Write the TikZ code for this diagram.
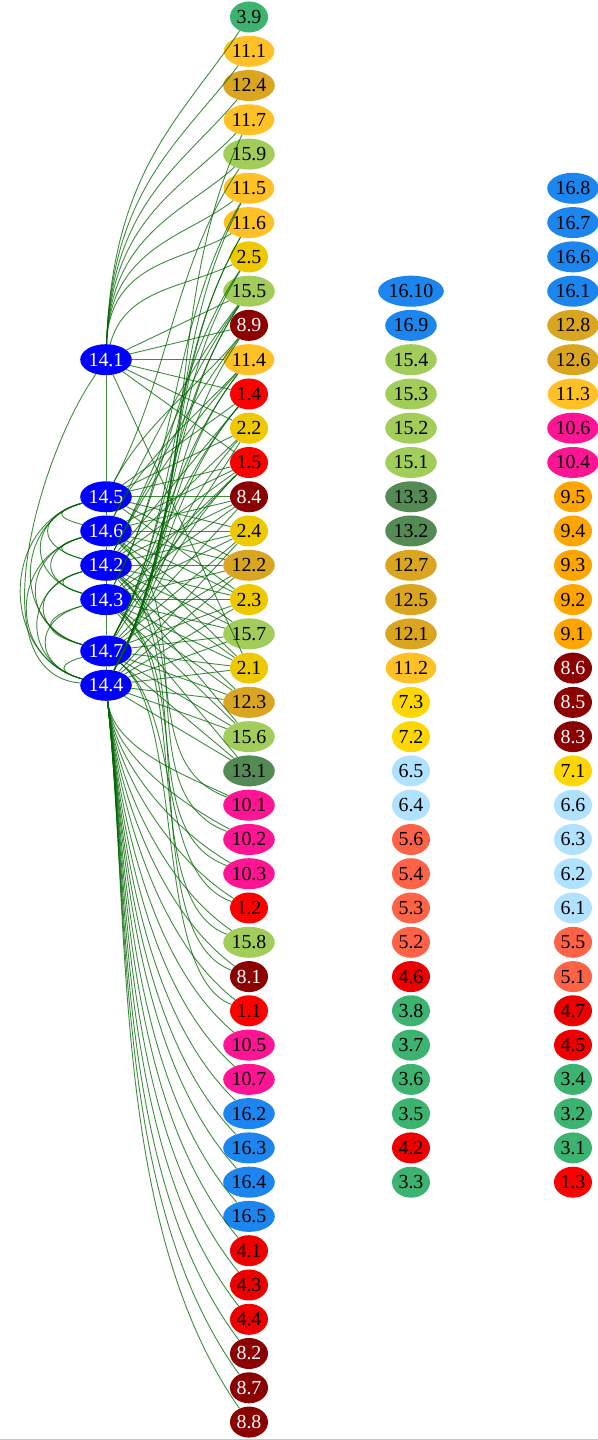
\documentclass[tikz,border=0pt]{standalone}
\usepackage{fontspec}
\setmainfont{Liberation Serif}
\usetikzlibrary{shapes.geometric}

\definecolor{cgreen}{RGB}{60,179,113}
\definecolor{cgold}{RGB}{255,193,37}
\definecolor{cgoldenrod}{RGB}{218,165,32}
\definecolor{colive}{RGB}{162,205,90}
\definecolor{cyellow}{RGB}{238,201,0}
\definecolor{cdarkred}{RGB}{139,0,0}
\definecolor{cred}{RGB}{255,0,0}
\definecolor{cpalegreen}{RGB}{84,139,84}
\definecolor{cpink}{RGB}{255,20,147}
\definecolor{cdodger}{RGB}{28,134,238}
\definecolor{cred2}{RGB}{238,0,0}
\definecolor{ctomato}{RGB}{255,99,71}
\definecolor{csky}{RGB}{176,226,255}
\definecolor{cgoldseven}{RGB}{255,215,0}
\definecolor{corange}{RGB}{255,165,0}
\definecolor{cblue}{RGB}{0,0,255}
\definecolor{edgegreen}{RGB}{0,100,0}

\begin{document}
\begin{tikzpicture}[x=1bp,y=1bp,
    cell/.style={ellipse, fill=#1, inner xsep=0.8bp, inner ysep=1bp, minimum width=38bp, minimum height=31bp, font=\fontsize{20}{20}\selectfont},
    whitetext/.style={text=white},
    link/.style={draw=edgegreen, line width=0.9bp, opacity=0.75},
    rise/.style={out=88, in=#1, out looseness=1.3, in looseness=0.8},
    climb/.style={out=62, in=#1, looseness=0.9},
    drop/.style={out=-84, in=#1, looseness=0.8},
    slide/.style={out=-40, in=160, looseness=#1},
    sideloop/.style={out=195, in=165, looseness=#1}]
    \useasboundingbox (0,0) rectangle (598,1440);
    \draw[gray!45, line width=1bp] (0,0.5) -- (598,0.5);

    \node[cell=cgreen] (n39) at (249,1423) {3.9};
    \node[cell=cgold] (n111) at (249,1388.7) {11.1};
    \node[cell=cgoldenrod] (n124) at (249,1354.5) {12.4};
    \node[cell=cgold] (n117) at (249,1320.2) {11.7};
    \node[cell=colive] (n159) at (249,1285.9) {15.9};
    \node[cell=cgold] (n115) at (249,1251.7) {11.5};
    \node[cell=cgold] (n116) at (249,1217.4) {11.6};
    \node[cell=cyellow] (n25) at (249,1183.1) {2.5};
    \node[cell=colive] (n155) at (249,1148.8) {15.5};
    \node[cell=cdarkred,whitetext] (n89) at (249,1114.6) {8.9};
    \node[cell=cgold] (n114) at (249,1080.3) {11.4};
    \node[cell=cred] (n14) at (249,1046.0) {1.4};
    \node[cell=cyellow] (n22) at (249,1011.8) {2.2};
    \node[cell=cred] (n15) at (249,977.5) {1.5};
    \node[cell=cdarkred,whitetext] (n84) at (249,943.2) {8.4};
    \node[cell=cyellow] (n24) at (249,909.0) {2.4};
    \node[cell=cgoldenrod] (n122) at (249,874.7) {12.2};
    \node[cell=cyellow] (n23) at (249,840.4) {2.3};
    \node[cell=colive] (n157) at (249,806.1) {15.7};
    \node[cell=cyellow] (n21) at (249,771.9) {2.1};
    \node[cell=cgoldenrod] (n123) at (249,737.6) {12.3};
    \node[cell=colive] (n156) at (249,703.3) {15.6};
    \node[cell=cpalegreen] (n131) at (249,669.1) {13.1};
    \node[cell=cpink] (n101) at (249,634.8) {10.1};
    \node[cell=cpink] (n102) at (249,600.5) {10.2};
    \node[cell=cpink] (n103) at (249,566.3) {10.3};
    \node[cell=cred] (n12) at (249,532.0) {1.2};
    \node[cell=colive] (n158) at (249,497.7) {15.8};
    \node[cell=cdarkred,whitetext] (n81) at (249,463.4) {8.1};
    \node[cell=cred] (n11) at (249,429.2) {1.1};
    \node[cell=cpink] (n105) at (249,394.9) {10.5};
    \node[cell=cpink] (n107) at (249,360.6) {10.7};
    \node[cell=cdodger] (n162) at (249,326.4) {16.2};
    \node[cell=cdodger] (n163) at (249,292.1) {16.3};
    \node[cell=cdodger] (n164) at (249,257.8) {16.4};
    \node[cell=cdodger] (n165) at (249,223.6) {16.5};
    \node[cell=cred2] (n41) at (249,189.3) {4.1};
    \node[cell=cred2] (n43) at (249,155.0) {4.3};
    \node[cell=cred2] (n44) at (249,120.7) {4.4};
    \node[cell=cdarkred,whitetext] (n82) at (249,86.5) {8.2};
    \node[cell=cdarkred,whitetext] (n87) at (249,52.2) {8.7};
    \node[cell=cdarkred,whitetext] (n88) at (249,17.9) {8.8};

    \node[cell=cdodger] (n1610) at (411,1148.8) {16.10};
    \node[cell=cdodger] (n169) at (411,1114.6) {16.9};
    \node[cell=colive] (n154) at (411,1080.3) {15.4};
    \node[cell=colive] (n153) at (411,1046.0) {15.3};
    \node[cell=colive] (n152) at (411,1011.8) {15.2};
    \node[cell=colive] (n151) at (411,977.5) {15.1};
    \node[cell=cpalegreen] (n133) at (411,943.2) {13.3};
    \node[cell=cpalegreen] (n132) at (411,909.0) {13.2};
    \node[cell=cgoldenrod] (n127) at (411,874.7) {12.7};
    \node[cell=cgoldenrod] (n125) at (411,840.4) {12.5};
    \node[cell=cgoldenrod] (n121) at (411,806.1) {12.1};
    \node[cell=cgold] (n112) at (411,771.9) {11.2};
    \node[cell=cgoldseven] (n73) at (411,737.6) {7.3};
    \node[cell=cgoldseven] (n72) at (411,703.3) {7.2};
    \node[cell=csky] (n65) at (411,669.1) {6.5};
    \node[cell=csky] (n64) at (411,634.8) {6.4};
    \node[cell=ctomato] (n56) at (411,600.5) {5.6};
    \node[cell=ctomato] (n54) at (411,566.3) {5.4};
    \node[cell=ctomato] (n53) at (411,532.0) {5.3};
    \node[cell=ctomato] (n52) at (411,497.7) {5.2};
    \node[cell=cred2] (n46) at (411,463.4) {4.6};
    \node[cell=cgreen] (n38) at (411,429.2) {3.8};
    \node[cell=cgreen] (n37) at (411,394.9) {3.7};
    \node[cell=cgreen] (n36) at (411,360.6) {3.6};
    \node[cell=cgreen] (n35) at (411,326.4) {3.5};
    \node[cell=cred2] (n42) at (411,292.1) {4.2};
    \node[cell=cgreen] (n33) at (411,257.8) {3.3};

    \node[cell=cdodger] (n168) at (573,1251.7) {16.8};
    \node[cell=cdodger] (n167) at (573,1217.4) {16.7};
    \node[cell=cdodger] (n166) at (573,1183.1) {16.6};
    \node[cell=cdodger] (n161) at (573,1148.8) {16.1};
    \node[cell=cgoldenrod] (n128) at (573,1114.6) {12.8};
    \node[cell=cgoldenrod] (n126) at (573,1080.3) {12.6};
    \node[cell=cgold] (n113) at (573,1046.0) {11.3};
    \node[cell=cpink] (n106) at (573,1011.8) {10.6};
    \node[cell=cpink] (n104) at (573,977.5) {10.4};
    \node[cell=corange] (n95) at (573,943.2) {9.5};
    \node[cell=corange] (n94) at (573,909.0) {9.4};
    \node[cell=corange] (n93) at (573,874.7) {9.3};
    \node[cell=corange] (n92) at (573,840.4) {9.2};
    \node[cell=corange] (n91) at (573,806.1) {9.1};
    \node[cell=cdarkred,whitetext] (n86) at (573,771.9) {8.6};
    \node[cell=cdarkred,whitetext] (n85) at (573,737.6) {8.5};
    \node[cell=cdarkred,whitetext] (n83) at (573,703.3) {8.3};
    \node[cell=cgoldseven] (n71) at (573,669.1) {7.1};
    \node[cell=csky] (n66) at (573,634.8) {6.6};
    \node[cell=csky] (n63) at (573,600.5) {6.3};
    \node[cell=csky] (n62) at (573,566.3) {6.2};
    \node[cell=csky] (n61) at (573,532.0) {6.1};
    \node[cell=ctomato] (n55) at (573,497.7) {5.5};
    \node[cell=ctomato] (n51) at (573,463.4) {5.1};
    \node[cell=cred2] (n47) at (573,429.2) {4.7};
    \node[cell=cred2] (n45) at (573,394.9) {4.5};
    \node[cell=cgreen] (n34) at (573,360.6) {3.4};
    \node[cell=cgreen] (n32) at (573,326.4) {3.2};
    \node[cell=cgreen] (n31) at (573,292.1) {3.1};
    \node[cell=cred] (n13) at (573,257.8) {1.3};

    \node[cell=cblue,whitetext] (n141) at (106,1080.3) {14.1};
    \node[cell=cblue,whitetext] (n145) at (106,943.2) {14.5};
    \node[cell=cblue,whitetext] (n146) at (106,909.0) {14.6};
    \node[cell=cblue,whitetext] (n142) at (106,874.7) {14.2};
    \node[cell=cblue,whitetext] (n143) at (106,840.4) {14.3};
    \node[cell=cblue,whitetext] (n147) at (106,789.0) {14.7};
    \node[cell=cblue,whitetext] (n144) at (106,754.7) {14.4};

    \draw[link] (n141) to[rise=236] (n39);
    \draw[link] (n141) to[rise=233] (n111);
    \draw[link] (n141) to[rise=230] (n124);
    \draw[link] (n141) to[rise=226] (n117);
    \draw[link] (n141) to[rise=222] (n159);
    \draw[link] (n141) to[rise=218] (n115);
    \draw[link] (n141) to[rise=212] (n116);
    \draw[link] (n141) to[out=75,in=205] (n25);
    \draw[link] (n141) -- (n155);
    \draw[link] (n141) -- (n89);
    \draw[link] (n141) -- (n114);
    \draw[link] (n141) -- (n14);
    \draw[link] (n141) -- (n22);
    \draw[link] (n141) -- (n15);
    \draw[link] (n141) -- (n21);
    \draw[link] (n141) -- (n145);
    \draw[link] (n141) to[out=235,in=175,looseness=0.85] (n144);

    \draw[link] (n145) -- (n146);
    \draw[link] (n146) -- (n142);
    \draw[link] (n142) -- (n143);
    \draw[link] (n143) -- (n147);
    \draw[link] (n147) -- (n144);
    \draw[link] (n145) to[sideloop=3.4] (n146);
    \draw[link] (n145) to[sideloop=2.2] (n142);
    \draw[link] (n145) to[sideloop=1.65] (n143);
    \draw[link] (n145) to[sideloop=1.3] (n147);
    \draw[link] (n145) to[sideloop=1.25] (n144);
    \draw[link] (n146) to[sideloop=3.4] (n142);
    \draw[link] (n146) to[sideloop=2.0] (n143);
    \draw[link] (n146) to[sideloop=1.55] (n147);
    \draw[link] (n146) to[sideloop=1.4] (n144);
    \draw[link] (n142) to[sideloop=3.2] (n143);
    \draw[link] (n142) to[sideloop=1.9] (n147);
    \draw[link] (n142) to[sideloop=1.5] (n144);
    \draw[link] (n143) to[sideloop=2.9] (n147);
    \draw[link] (n143) to[sideloop=1.8] (n144);
    \draw[link] (n147) to[sideloop=3.0] (n144);

    \draw[link] (n145) -- (n84);
    \draw[link] (n145) -- (n14);
    \draw[link] (n145) -- (n22);
    \draw[link] (n145) -- (n15);
    \draw[link] (n145) -- (n24);
    \draw[link] (n145) -- (n122);
    \draw[link] (n145) -- (n23);
    \draw[link] (n146) -- (n24);
    \draw[link] (n146) -- (n15);
    \draw[link] (n146) -- (n84);
    \draw[link] (n146) -- (n122);
    \draw[link] (n146) -- (n23);
    \draw[link] (n146) -- (n21);
    \draw[link] (n146) -- (n157);
    \draw[link] (n142) -- (n122);
    \draw[link] (n142) -- (n14);
    \draw[link] (n142) -- (n22);
    \draw[link] (n142) -- (n15);
    \draw[link] (n142) -- (n84);
    \draw[link] (n142) -- (n24);
    \draw[link] (n142) -- (n23);
    \draw[link] (n142) -- (n157);
    \draw[link] (n142) -- (n21);
    \draw[link] (n142) -- (n123);
    \draw[link] (n142) -- (n156);
    \draw[link] (n143) -- (n23);
    \draw[link] (n143) -- (n15);
    \draw[link] (n143) -- (n84);
    \draw[link] (n143) -- (n24);
    \draw[link] (n143) -- (n122);
    \draw[link] (n143) -- (n157);
    \draw[link] (n143) -- (n21);
    \draw[link] (n143) -- (n123);
    \draw[link] (n143) -- (n156);
    \draw[link] (n143) -- (n131);
    \draw[link] (n147) -- (n22);
    \draw[link] (n147) -- (n84);
    \draw[link] (n147) -- (n24);
    \draw[link] (n147) -- (n122);
    \draw[link] (n147) -- (n23);
    \draw[link] (n147) -- (n157);
    \draw[link] (n147) -- (n21);
    \draw[link] (n147) -- (n123);
    \draw[link] (n147) -- (n156);
    \draw[link] (n147) -- (n131);
    \draw[link] (n144) -- (n24);
    \draw[link] (n144) -- (n122);
    \draw[link] (n144) -- (n23);
    \draw[link] (n144) -- (n157);
    \draw[link] (n144) -- (n21);
    \draw[link] (n144) -- (n123);
    \draw[link] (n144) -- (n156);
    \draw[link] (n144) -- (n131);

    \draw[link] (n144) to[climb=225] (n15);
    \draw[link] (n144) to[climb=228] (n22);
    \draw[link] (n144) to[climb=230] (n14);
    \draw[link] (n144) to[climb=232] (n114);
    \draw[link] (n144) to[climb=235] (n89);
    \draw[link] (n144) to[climb=236] (n155);
    \draw[link] (n144) to[climb=238] (n25);
    \draw[link] (n144) to[climb=240] (n116);
    \draw[link] (n144) to[climb=242] (n115);
    \draw[link] (n144) to[climb=245] (n117);
    \draw[link] (n147) to[climb=225] (n15);
    \draw[link] (n147) to[climb=230] (n14);
    \draw[link] (n147) to[climb=232] (n114);
    \draw[link] (n147) to[climb=236] (n155);
    \draw[link] (n147) to[climb=240] (n116);
    \draw[link] (n142) to[climb=228] (n114);
    \draw[link] (n142) to[climb=232] (n89);
    \draw[link] (n142) to[climb=234] (n155);
    \draw[link] (n146) to[climb=226] (n114);
    \draw[link] (n146) to[climb=232] (n155);
    \draw[link] (n143) to[climb=236] (n25);
    \draw[link] (n143) to[climb=240] (n115);
    \draw[link] (n145) to[climb=230] (n89);
    \draw[link] (n145) to[climb=236] (n159);

    \draw[link] (n144) to[drop=155] (n101);
    \draw[link] (n144) to[drop=152] (n102);
    \draw[link] (n144) to[drop=150] (n103);
    \draw[link] (n144) to[drop=148] (n12);
    \draw[link] (n144) to[drop=146] (n158);
    \draw[link] (n144) to[drop=144] (n81);
    \draw[link] (n144) to[drop=142] (n11);
    \draw[link] (n144) to[drop=140] (n105);
    \draw[link] (n144) to[drop=138] (n107);
    \draw[link] (n144) to[drop=136] (n162);
    \draw[link] (n144) to[drop=134] (n163);
    \draw[link] (n144) to[drop=132] (n164);
    \draw[link] (n144) to[drop=131] (n165);
    \draw[link] (n144) to[drop=130] (n41);
    \draw[link] (n144) to[drop=129] (n43);
    \draw[link] (n144) to[drop=128] (n44);
    \draw[link] (n144) to[drop=127] (n82);
    \draw[link] (n144) to[drop=126] (n87);
    \draw[link] (n144) to[drop=125] (n88);

    \draw[link] (n142) to[slide=1.0] (n101);
    \draw[link] (n146) to[slide=0.9] (n102);
    \draw[link] (n143) to[slide=0.9] (n103);
    \draw[link] (n147) to[slide=0.8] (n12);
    \draw[link] (n143) to[slide=0.7] (n158);
    \draw[link] (n142) to[slide=0.65] (n81);
    \draw[link] (n147) to[slide=0.6] (n11);
  \end{tikzpicture}
\end{document}
